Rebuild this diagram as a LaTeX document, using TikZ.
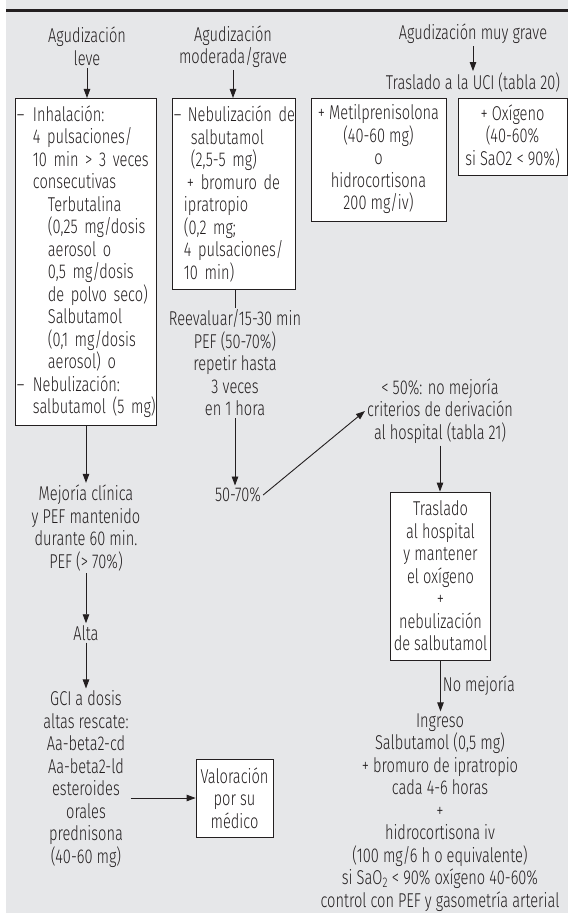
\documentclass[tikz,border=0pt]{standalone}
\usepackage{fontspec}
\setmainfont{Fira Sans Light}[FakeStretch=0.73]
\usetikzlibrary{arrows.meta,positioning}
\definecolor{fondo}{RGB}{230,231,233}
\definecolor{tinta}{RGB}{35,31,32}
\tikzset{
  texto/.style={align=center,inner sep=2pt,text=tinta},
  caja/.style={texto,draw=tinta,fill=white,line width=0.8pt,inner xsep=3pt},
  flecha/.style={-{Triangle[length=9pt,width=6.5pt]},line width=0.9pt,draw=tinta},
}
\begin{document}
\begin{tikzpicture}[x=1pt,y=-1pt,font=\fontsize{20}{22.5}\selectfont]
\useasboundingbox (0,0) rectangle (568,915);
\fill[fondo] (6,0) rectangle (568,913);
\draw[tinta,line width=3pt] (6,11) -- (568,11);

% columna leve
\node[texto] (leve) at (87,46.5) {Agudización\\leve};
\node[caja,anchor=north west,inner xsep=1.5pt,text width=138pt,minimum height=327pt,align=left] (inhal) at (15,98) {%
\makebox[16pt][l]{--}Inhalación:\\
\hspace*{16pt}4 pulsaciones/\\
\hspace*{16pt}\mbox{10 min > 3 veces}\\
\hspace*{16pt}consecutivas\\
\hspace*{31pt}Terbutalina\\
\hspace*{31pt}\mbox{(0,25 mg/dosis}\\
\hspace*{31pt}aerosol o\\
\hspace*{31pt}\mbox{0,5 mg/dosis}\\
\hspace*{31pt}\mbox{de polvo seco)}\\
\hspace*{31pt}Salbutamol\\
\hspace*{31pt}\mbox{(0,1 mg/dosis}\\
\hspace*{31pt}\mbox{aerosol) o}\\
\makebox[16pt][l]{--}Nebulización:\\
\hspace*{16pt}\mbox{salbutamol (5 mg)}};
\node[texto] (mejoria) at (86,528) {Mejoría clínica\\y PEF mantenido\\durante 60 min.\\PEF (> 70\%)};
\node[texto] (alta) at (86,633) {Alta};
\node[texto] (gci) at (86,779) {GCI a dosis\\altas rescate:\\Aa-beta2-cd\\Aa-beta2-ld\\esteroides\\orales\\prednisona\\(40-60 mg)};
\node[caja,minimum width=77pt,minimum height=78pt] (valor) at (234.5,798) {Valoración\\por su\\médico};

% columna moderada/grave
\node[texto] (moder) at (233,46.5) {Agudización\\moderada/grave};
\node[caja,anchor=north west,inner xsep=1.5pt,text width=120pt,minimum height=191pt,align=left] (nebul) at (172,98) {%
\makebox[14pt][l]{--}\mbox{Nebulización de}\\
\hspace*{17pt}salbutamol\\
\hspace*{17pt}(2,5-5 mg)\\
\hspace*{13pt}\mbox{+ bromuro de}\\
\hspace*{10pt}ipratropio\\
\hspace*{10pt}(0,2 mg;\\
\hspace*{10pt}\mbox{4 pulsaciones/}\\
\hspace*{10pt}10 min)};
\node[texto] (reeval) at (235,363) {Reevaluar/15-30 min\\PEF (50-70\%)\\repetir hasta\\3 veces\\en 1 hora};
\node[texto] (p5070) at (238,495) {50-70\%};
\node[texto] (menos50) at (440,411) {< 50\%: no mejoría\\criterios de derivación\\al hospital (tabla 21)};
\node[caja,minimum width=99pt,minimum height=168pt] (traslado) at (440.5,576) {Traslado\\al hospital\\y mantener\\el oxígeno\\+\\nebulización\\de salbutamol};
\node[texto] (ingreso) at (440,812.5) {Ingreso\\Salbutamol (0,5 mg)\\+ bromuro de ipratropio\\cada 4-6 horas\\+\\hidrocortisona iv\\(100 mg/6 h o equivalente)\\si SaO\textsubscript{2} < 90\% oxígeno 40-60\%\\control con PEF y gasometría arterial};

% columna muy grave
\node[texto] (muyg) at (473,34) {Agudización muy grave};
\node[texto] (uci) at (473,83) {Traslado a la UCI (tabla 20)};
\node[caja,minimum width=135pt,minimum height=123pt] (metil) at (378.5,159.5) {+ Metilprenisolona\\(40-60 mg)\\o\\hidrocortisona\\200 mg/iv)};
\node[caja,minimum width=109pt,minimum height=77pt] (oxig) at (512.5,136.5) {+ Oxígeno\\(40-60\%\\si SaO2 < 90\%)};

% conexiones
\draw[flecha] (leve.south) -- (leve.south |- inhal.north);
\draw[flecha] (moder.south) -- (moder.south |- nebul.north);
\draw[flecha] (muyg.south) -- (uci.north);
\draw[tinta,line width=0.9pt] (reeval.north |- nebul.south) -- (reeval.north);
\draw[flecha] (reeval.south) -- (reeval.south |- p5070.north);
\draw[flecha] (p5070.east) -- (menos50.west);
\draw[flecha] (menos50.south) -- (menos50.south |- traslado.north);
\draw[flecha] (traslado.south) -- node[texto,right] {No mejoría} (traslado.south |- ingreso.north);
\draw[flecha] (mejoria.north |- inhal.south) -- (mejoria.north);
\draw[flecha] (mejoria.south) -- (alta.north);
\draw[flecha] (alta.south) -- (gci.north);
\draw[flecha] (gci.east |- valor.west) -- (valor.west);
\end{tikzpicture}
\end{document}
